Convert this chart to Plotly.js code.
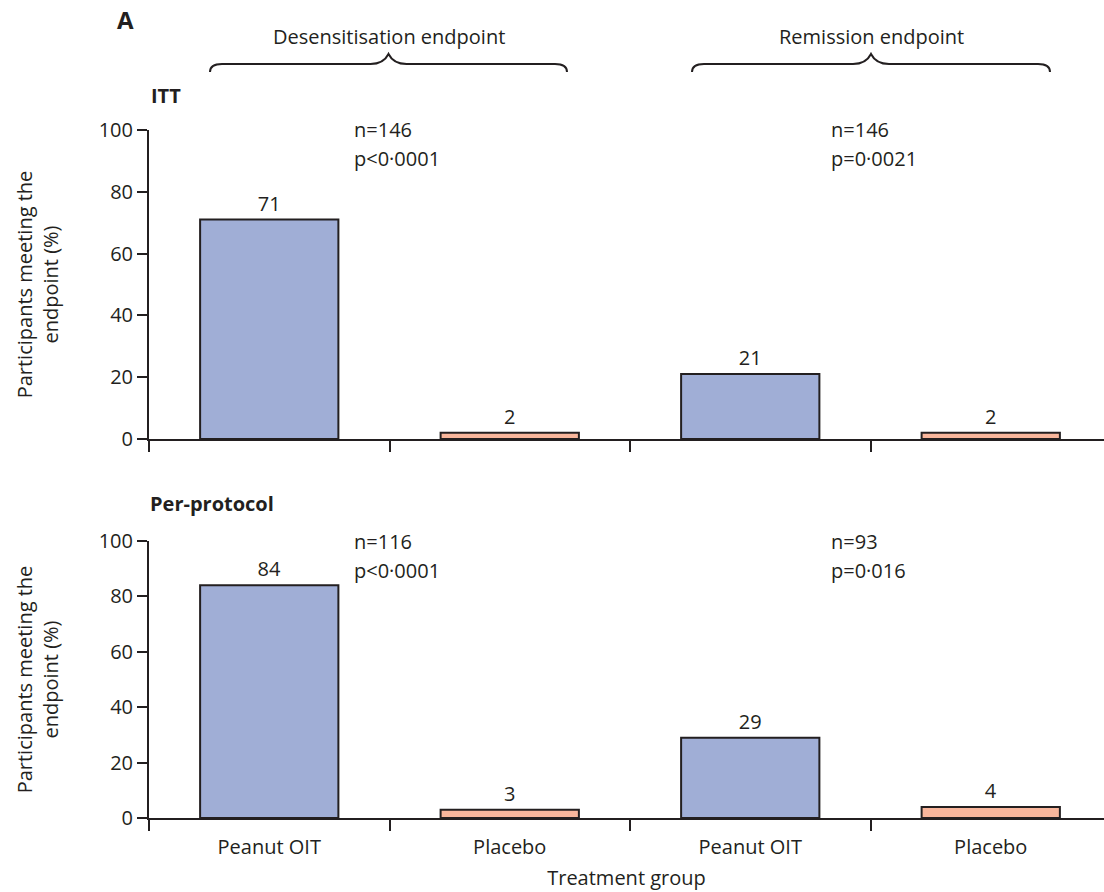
<!DOCTYPE html>
<html>
<head>
<meta charset="utf-8">
<script src="https://cdn.plot.ly/plotly-3.0.1.min.js"></script>
<style>html,body{margin:0;padding:0;background:#fff;}#chart{width:1104px;height:892px;}</style>
</head>
<body>
<div id="chart"></div>
<script>
// ---- data ----
const groups = ['Peanut OIT', 'Placebo', 'Peanut OIT', 'Placebo'];
const groupPos = [0, 1, 2, 3];
const ittValues = [71, 2, 21, 2];
const ppValues = [84, 3, 29, 4];
const endpoints = ['Desensitisation endpoint', 'Remission endpoint'];
const ittStats = [['n=146', 'p&lt;0·0001'], ['n=146', 'p=0·0021']];
const ppStats = [['n=116', 'p&lt;0·0001'], ['n=93', 'p=0·016']];
const boundaryTicks = [-0.5, 0.5, 1.5, 2.5];
const yTicks = [0, 20, 40, 60, 80, 100];

// ---- style ----
const W = 1104, H = 892, L = 149;
const ink = '#231f20';
const blue = '#a0aed6';
const orange = '#f9b69c';
const barColors = [blue, orange, blue, orange];
const FONT = 'Open Sans, Noto Sans, sans-serif';
const px = x => (x - L) / (W - L);
const py = y => 1 - y / H;

function barTrace(vals, xa, ya) {
  return {
    type: 'bar', x: groupPos, y: vals, xaxis: xa, yaxis: ya,
    width: 0.575,
    marker: {color: barColors, line: {color: ink, width: 2}},
    text: vals.map(String), textposition: 'outside', cliponaxis: false,
    textfont: {family: FONT, size: 20, color: ink},
    hoverinfo: 'skip'
  };
}

const data = [barTrace(ittValues, 'x', 'y'), barTrace(ppValues, 'x2', 'y2')];

const xRange = [-0.5, -0.5 + (W - L) / 240.5];
function xAxis(anchor, showLabels) {
  return {
    anchor: anchor, domain: [0, 1], range: xRange,
    showline: true, linecolor: ink, linewidth: 2, showgrid: false, zeroline: false,
    tickmode: 'array', tickvals: groupPos, ticktext: showLabels ? groups : ['', '', '', ''],
    ticks: 'outside', ticklen: 10, tickcolor: 'rgba(0,0,0,0)',
    tickfont: {family: FONT, size: 20, color: ink},
    minor: {tickmode: 'array', tickvals: boundaryTicks, ticks: 'outside', ticklen: 11, tickwidth: 2, tickcolor: ink, showgrid: false},
    fixedrange: true
  };
}
function yAxis(domain) {
  return {
    domain: domain, range: [0, 100], tickmode: 'array', tickvals: yTicks,
    showline: true, linecolor: ink, linewidth: 2, showgrid: false, zeroline: false,
    ticks: 'outside', ticklen: 10, tickwidth: 2, tickcolor: ink,
    tickfont: {family: FONT, size: 20, color: ink},
    title: {text: 'Participants meeting the<br>endpoint (%)', font: {family: FONT, size: 20, color: ink}, standoff: 35},
    fixedrange: true
  };
}

const xa1 = xAxis('y', false);
const xa2 = xAxis('y2', true);
xa2.title = {text: 'Treatment group', font: {family: FONT, size: 20, color: ink}, standoff: 12};

const annotations = [];
function txt(x, y, text, opts) {
  annotations.push(Object.assign({xref: 'paper', yref: 'paper', x: px(x), y: py(y), text: text,
    showarrow: false, xanchor: 'center', yanchor: 'middle',
    font: {family: FONT, size: 20, color: ink}}, opts || {}));
}
txt(125, 20, '<b>A</b>', {font: {family: FONT, size: 24, color: ink}});
txt(389, 37, endpoints[0]);
txt(871, 37, endpoints[1]);
txt(149, 95, '<b>ITT</b>', {xanchor: 'left'});
txt(148, 504, '<b>Per-protocol</b>', {xanchor: 'left'});
// n / p statistics
const statX = [0.344, 2.327];
[[ittStats, 'x', 'y'], [ppStats, 'x2', 'y2']].forEach(([stats, xr, yr]) => {
  stats.forEach((s, i) => {
    annotations.push({xref: xr, yref: yr, x: statX[i], y: 100, text: s[0], showarrow: false,
      xanchor: 'left', yanchor: 'middle', font: {family: FONT, size: 20, color: ink}});
    annotations.push({xref: xr, yref: yr, x: statX[i], y: 100, yshift: -29, text: s[1], showarrow: false,
      xanchor: 'left', yanchor: 'middle', font: {family: FONT, size: 20, color: ink}});
  });
});

function brace(x0, x1, yLine, yEnd, yTip) {
  const xm = (x0 + x1) / 2;
  const p = (x, y) => px(x).toFixed(5) + ',' + py(y).toFixed(5);
  const path = 'M' + p(x0, yEnd) + ' Q' + p(x0, yLine) + ' ' + p(x0 + 12, yLine) +
    ' L' + p(xm - 18, yLine) + ' Q' + p(xm - 5, yLine) + ' ' + p(xm, yTip) +
    ' Q' + p(xm + 5, yLine) + ' ' + p(xm + 18, yLine) +
    ' L' + p(x1 - 12, yLine) + ' Q' + p(x1, yLine) + ' ' + p(x1, yEnd);
  return {type: 'path', xref: 'paper', yref: 'paper', path: path, line: {color: ink, width: 2}};
}
const shapes = [brace(210, 567, 64, 72, 54), brace(692, 1050, 64, 72, 54)];

const layout = {
  width: W, height: H,
  margin: {l: L, r: 0, t: 0, b: 0},
  paper_bgcolor: '#fff', plot_bgcolor: '#fff',
  showlegend: false, bargap: 0,
  font: {family: FONT, size: 20, color: ink},
  xaxis: xa1, yaxis: yAxis([py(439), py(130)]),
  xaxis2: xa2, yaxis2: yAxis([py(818), py(541)]),
  annotations: annotations, shapes: shapes
};

Plotly.newPlot('chart', data, layout, {displayModeBar: false, staticPlot: true});
</script>
</body>
</html>
